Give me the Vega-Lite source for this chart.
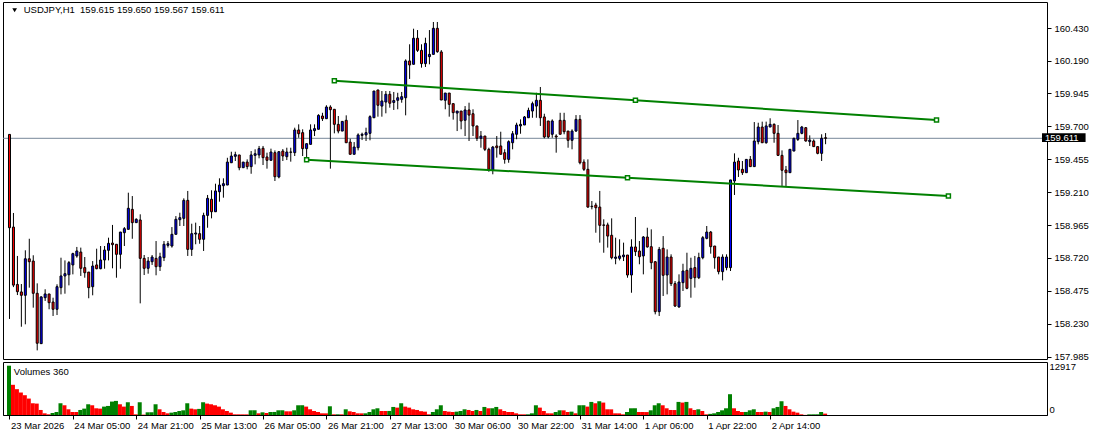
{
"$schema":"https://vega.github.io/schema/vega-lite/v6.json",
"background":"white",
"padding":{"left":2,"top":1,"right":0,"bottom":0},
"autosize":{"type":"pad"},
"bounds":"flush",
"spacing":3,
"datasets":{
"bars":[
{"i":0,"o":159.640,"h":159.640,"l":158.266,"c":158.945,"v":12917},
{"i":1,"o":158.950,"h":159.055,"l":158.503,"c":158.518,"v":7911},
{"i":2,"o":158.523,"h":158.735,"l":158.444,"c":158.469,"v":6768},
{"i":3,"o":158.467,"h":158.526,"l":158.208,"c":158.442,"v":5889},
{"i":4,"o":158.442,"h":158.777,"l":158.226,"c":158.714,"v":5186},
{"i":5,"o":158.714,"h":158.863,"l":158.499,"c":158.692,"v":4307},
{"i":6,"o":158.697,"h":158.740,"l":158.350,"c":158.457,"v":3076},
{"i":7,"o":158.457,"h":158.531,"l":158.032,"c":158.085,"v":2989},
{"i":8,"o":158.082,"h":158.435,"l":158.080,"c":158.430,"v":1319},
{"i":9,"o":158.424,"h":158.487,"l":158.400,"c":158.452,"v":440},
{"i":10,"o":158.452,"h":158.452,"l":158.338,"c":158.387,"v":176},
{"i":11,"o":158.392,"h":158.424,"l":158.288,"c":158.338,"v":527},
{"i":12,"o":158.338,"h":158.524,"l":158.295,"c":158.506,"v":791},
{"i":13,"o":158.499,"h":158.722,"l":158.449,"c":158.586,"v":3076},
{"i":14,"o":158.586,"h":158.702,"l":158.454,"c":158.603,"v":2549},
{"i":15,"o":158.595,"h":158.697,"l":158.516,"c":158.685,"v":1494},
{"i":16,"o":158.668,"h":158.759,"l":158.598,"c":158.752,"v":791},
{"i":17,"o":158.735,"h":158.802,"l":158.722,"c":158.772,"v":780},
{"i":18,"o":158.764,"h":158.797,"l":158.586,"c":158.643,"v":1319},
{"i":19,"o":158.648,"h":158.727,"l":158.573,"c":158.610,"v":1670},
{"i":20,"o":158.615,"h":158.615,"l":158.420,"c":158.499,"v":2813},
{"i":21,"o":158.506,"h":158.697,"l":158.442,"c":158.660,"v":2549},
{"i":22,"o":158.668,"h":158.789,"l":158.636,"c":158.640,"v":1758},
{"i":23,"o":158.640,"h":158.809,"l":158.636,"c":158.705,"v":1670},
{"i":24,"o":158.705,"h":158.809,"l":158.640,"c":158.779,"v":2198},
{"i":25,"o":158.777,"h":158.871,"l":158.702,"c":158.829,"v":2373},
{"i":26,"o":158.831,"h":158.966,"l":158.643,"c":158.819,"v":3516},
{"i":27,"o":158.822,"h":158.822,"l":158.573,"c":158.747,"v":3692},
{"i":28,"o":158.747,"h":158.913,"l":158.640,"c":158.913,"v":2813},
{"i":29,"o":158.908,"h":158.950,"l":158.809,"c":158.938,"v":2198},
{"i":30,"o":158.933,"h":159.206,"l":158.933,"c":159.090,"v":3340},
{"i":31,"o":159.082,"h":159.181,"l":158.863,"c":158.983,"v":2373},
{"i":32,"o":158.983,"h":159.015,"l":158.983,"c":159.008,"v":176},
{"i":33,"o":159.003,"h":159.045,"l":158.382,"c":158.717,"v":3340},
{"i":34,"o":158.717,"h":158.742,"l":158.593,"c":158.643,"v":100},
{"i":35,"o":158.643,"h":158.727,"l":158.603,"c":158.697,"v":703},
{"i":36,"o":158.692,"h":158.742,"l":158.668,"c":158.727,"v":720},
{"i":37,"o":158.717,"h":158.846,"l":158.591,"c":158.655,"v":2813},
{"i":38,"o":158.655,"h":158.759,"l":158.623,"c":158.729,"v":1494},
{"i":39,"o":158.722,"h":158.846,"l":158.697,"c":158.822,"v":791},
{"i":40,"o":158.814,"h":158.846,"l":158.797,"c":158.826,"v":440},
{"i":41,"o":158.809,"h":158.950,"l":158.797,"c":158.896,"v":615},
{"i":42,"o":158.896,"h":159.032,"l":158.896,"c":159.008,"v":791},
{"i":43,"o":159.005,"h":159.057,"l":158.958,"c":159.020,"v":1055},
{"i":44,"o":159.015,"h":159.164,"l":158.958,"c":159.149,"v":1231},
{"i":45,"o":159.149,"h":159.219,"l":158.735,"c":158.784,"v":3076},
{"i":46,"o":158.784,"h":158.975,"l":158.735,"c":158.901,"v":1670},
{"i":47,"o":158.898,"h":158.983,"l":158.822,"c":158.906,"v":1494},
{"i":48,"o":158.901,"h":158.958,"l":158.826,"c":158.859,"v":1600},
{"i":49,"o":158.859,"h":159.057,"l":158.772,"c":159.037,"v":3340},
{"i":50,"o":159.037,"h":159.189,"l":158.945,"c":159.164,"v":2989},
{"i":51,"o":159.157,"h":159.224,"l":159.015,"c":159.064,"v":2813},
{"i":52,"o":159.064,"h":159.273,"l":159.064,"c":159.219,"v":2549},
{"i":53,"o":159.213,"h":159.313,"l":159.139,"c":159.263,"v":2198},
{"i":54,"o":159.258,"h":159.313,"l":159.169,"c":159.273,"v":1494},
{"i":55,"o":159.263,"h":159.466,"l":159.263,"c":159.434,"v":1055},
{"i":56,"o":159.429,"h":159.511,"l":159.429,"c":159.479,"v":615},
{"i":57,"o":159.477,"h":159.511,"l":159.442,"c":159.489,"v":176},
{"i":58,"o":159.487,"h":159.487,"l":159.373,"c":159.392,"v":170},
{"i":59,"o":159.392,"h":159.434,"l":159.392,"c":159.434,"v":165},
{"i":60,"o":159.434,"h":159.454,"l":159.380,"c":159.400,"v":160},
{"i":61,"o":159.400,"h":159.516,"l":159.347,"c":159.487,"v":1231},
{"i":62,"o":159.484,"h":159.529,"l":159.417,"c":159.496,"v":1240},
{"i":63,"o":159.487,"h":159.554,"l":159.462,"c":159.534,"v":440},
{"i":64,"o":159.537,"h":159.554,"l":159.412,"c":159.467,"v":703},
{"i":65,"o":159.472,"h":159.504,"l":159.385,"c":159.447,"v":527},
{"i":66,"o":159.447,"h":159.534,"l":159.447,"c":159.509,"v":791},
{"i":67,"o":159.504,"h":159.521,"l":159.293,"c":159.325,"v":800},
{"i":68,"o":159.323,"h":159.516,"l":159.313,"c":159.511,"v":1231},
{"i":69,"o":159.516,"h":159.531,"l":159.442,"c":159.479,"v":1240},
{"i":70,"o":159.474,"h":159.541,"l":159.449,"c":159.509,"v":967},
{"i":71,"o":159.509,"h":159.541,"l":159.437,"c":159.507,"v":960},
{"i":72,"o":159.504,"h":159.690,"l":159.479,"c":159.673,"v":1231},
{"i":73,"o":159.673,"h":159.715,"l":159.615,"c":159.645,"v":2549},
{"i":74,"o":159.653,"h":159.678,"l":159.479,"c":159.534,"v":2560},
{"i":75,"o":159.534,"h":159.571,"l":159.449,"c":159.571,"v":2198},
{"i":76,"o":159.566,"h":159.715,"l":159.566,"c":159.673,"v":1494},
{"i":77,"o":159.668,"h":159.715,"l":159.628,"c":159.683,"v":1055},
{"i":78,"o":159.678,"h":159.790,"l":159.678,"c":159.782,"v":791},
{"i":79,"o":159.777,"h":159.801,"l":159.740,"c":159.757,"v":440},
{"i":80,"o":159.757,"h":159.857,"l":159.757,"c":159.844,"v":430},
{"i":81,"o":159.844,"h":159.857,"l":159.385,"c":159.824,"v":2285},
{"i":82,"o":159.827,"h":159.827,"l":159.648,"c":159.715,"v":176},
{"i":83,"o":159.715,"h":159.777,"l":159.648,"c":159.665,"v":180},
{"i":84,"o":159.665,"h":159.737,"l":159.665,"c":159.737,"v":170},
{"i":85,"o":159.745,"h":159.782,"l":159.578,"c":159.578,"v":1494},
{"i":86,"o":159.583,"h":159.608,"l":159.492,"c":159.492,"v":967},
{"i":87,"o":159.492,"h":159.583,"l":159.492,"c":159.546,"v":791},
{"i":88,"o":159.541,"h":159.648,"l":159.521,"c":159.636,"v":440},
{"i":89,"o":159.633,"h":159.653,"l":159.598,"c":159.641,"v":430},
{"i":90,"o":159.636,"h":159.690,"l":159.591,"c":159.653,"v":440},
{"i":91,"o":159.648,"h":159.782,"l":159.596,"c":159.772,"v":791},
{"i":92,"o":159.764,"h":159.963,"l":159.764,"c":159.963,"v":1494},
{"i":93,"o":159.971,"h":159.971,"l":159.772,"c":159.857,"v":1758},
{"i":94,"o":159.851,"h":159.963,"l":159.772,"c":159.889,"v":1055},
{"i":95,"o":159.881,"h":159.963,"l":159.797,"c":159.939,"v":1050},
{"i":96,"o":159.939,"h":159.963,"l":159.839,"c":159.872,"v":1060},
{"i":97,"o":159.878,"h":159.956,"l":159.822,"c":159.892,"v":2110},
{"i":98,"o":159.894,"h":159.950,"l":159.827,"c":159.913,"v":1934},
{"i":99,"o":159.901,"h":159.956,"l":159.876,"c":159.921,"v":3076},
{"i":100,"o":159.913,"h":160.199,"l":159.782,"c":160.187,"v":2198},
{"i":101,"o":160.187,"h":160.311,"l":160.053,"c":160.157,"v":1934},
{"i":102,"o":160.162,"h":160.427,"l":160.162,"c":160.356,"v":1494},
{"i":103,"o":160.356,"h":160.417,"l":160.254,"c":160.266,"v":1319},
{"i":104,"o":160.266,"h":160.311,"l":160.137,"c":160.167,"v":1000},
{"i":105,"o":160.167,"h":160.360,"l":160.142,"c":160.318,"v":879},
{"i":106,"o":160.219,"h":160.417,"l":160.162,"c":160.236,"v":176},
{"i":107,"o":160.236,"h":160.477,"l":160.236,"c":160.430,"v":791},
{"i":108,"o":160.430,"h":160.477,"l":160.248,"c":160.256,"v":1494},
{"i":109,"o":160.254,"h":160.268,"l":159.896,"c":159.896,"v":2549},
{"i":110,"o":159.894,"h":159.948,"l":159.827,"c":159.948,"v":1055},
{"i":111,"o":159.948,"h":159.948,"l":159.772,"c":159.864,"v":879},
{"i":112,"o":159.869,"h":159.869,"l":159.750,"c":159.802,"v":791},
{"i":113,"o":159.799,"h":159.814,"l":159.665,"c":159.814,"v":879},
{"i":114,"o":159.814,"h":159.814,"l":159.678,"c":159.740,"v":1055},
{"i":115,"o":159.745,"h":159.851,"l":159.628,"c":159.822,"v":1494},
{"i":116,"o":159.822,"h":159.876,"l":159.591,"c":159.784,"v":1319},
{"i":117,"o":159.794,"h":159.827,"l":159.628,"c":159.703,"v":1055},
{"i":118,"o":159.703,"h":159.703,"l":159.591,"c":159.611,"v":1319},
{"i":119,"o":159.611,"h":159.665,"l":159.541,"c":159.628,"v":1055},
{"i":120,"o":159.628,"h":159.628,"l":159.516,"c":159.529,"v":2110},
{"i":121,"o":159.529,"h":159.541,"l":159.362,"c":159.380,"v":1758},
{"i":122,"o":159.373,"h":159.554,"l":159.343,"c":159.546,"v":1770},
{"i":123,"o":159.554,"h":159.628,"l":159.467,"c":159.541,"v":2110},
{"i":124,"o":159.554,"h":159.660,"l":159.492,"c":159.492,"v":1494},
{"i":125,"o":159.504,"h":159.529,"l":159.422,"c":159.454,"v":1055},
{"i":126,"o":159.454,"h":159.596,"l":159.429,"c":159.586,"v":791},
{"i":127,"o":159.578,"h":159.665,"l":159.529,"c":159.645,"v":780},
{"i":128,"o":159.641,"h":159.727,"l":159.604,"c":159.710,"v":440},
{"i":129,"o":159.703,"h":159.752,"l":159.645,"c":159.715,"v":176},
{"i":130,"o":159.710,"h":159.777,"l":159.710,"c":159.770,"v":170},
{"i":131,"o":159.764,"h":159.839,"l":159.764,"c":159.819,"v":176},
{"i":132,"o":159.814,"h":159.884,"l":159.764,"c":159.869,"v":440},
{"i":133,"o":159.851,"h":159.950,"l":159.764,"c":159.894,"v":2549},
{"i":134,"o":159.894,"h":159.993,"l":159.703,"c":159.764,"v":1934},
{"i":135,"o":159.770,"h":159.794,"l":159.611,"c":159.621,"v":1055},
{"i":136,"o":159.740,"h":159.740,"l":159.611,"c":159.621,"v":440},
{"i":137,"o":159.641,"h":159.752,"l":159.615,"c":159.740,"v":430},
{"i":138,"o":159.628,"h":159.641,"l":159.504,"c":159.621,"v":791},
{"i":139,"o":159.745,"h":159.801,"l":159.641,"c":159.641,"v":1231},
{"i":140,"o":159.745,"h":159.801,"l":159.641,"c":159.660,"v":1220},
{"i":141,"o":159.665,"h":159.665,"l":159.541,"c":159.596,"v":791},
{"i":142,"o":159.596,"h":159.678,"l":159.529,"c":159.665,"v":879},
{"i":143,"o":159.665,"h":159.784,"l":159.660,"c":159.752,"v":440},
{"i":144,"o":159.752,"h":159.784,"l":159.417,"c":159.429,"v":2549},
{"i":145,"o":159.434,"h":159.454,"l":159.368,"c":159.380,"v":2560},
{"i":146,"o":159.380,"h":159.454,"l":159.094,"c":159.099,"v":2198},
{"i":147,"o":159.105,"h":159.144,"l":159.082,"c":159.102,"v":3428},
{"i":148,"o":159.114,"h":159.131,"l":158.908,"c":159.094,"v":3076},
{"i":149,"o":159.099,"h":159.219,"l":158.834,"c":158.963,"v":3604},
{"i":150,"o":158.966,"h":159.008,"l":158.759,"c":158.963,"v":3252},
{"i":151,"o":158.966,"h":158.983,"l":158.797,"c":158.883,"v":1494},
{"i":152,"o":158.889,"h":159.015,"l":158.710,"c":158.722,"v":1480},
{"i":153,"o":158.717,"h":158.871,"l":158.673,"c":158.727,"v":440},
{"i":154,"o":158.717,"h":158.859,"l":158.702,"c":158.735,"v":430},
{"i":155,"o":158.729,"h":158.834,"l":158.697,"c":158.742,"v":176},
{"i":156,"o":158.742,"h":158.742,"l":158.573,"c":158.593,"v":791},
{"i":157,"o":158.593,"h":158.859,"l":158.461,"c":158.802,"v":1758},
{"i":158,"o":158.802,"h":159.025,"l":158.735,"c":158.767,"v":1770},
{"i":159,"o":158.772,"h":158.846,"l":158.673,"c":158.729,"v":791},
{"i":160,"o":158.735,"h":158.883,"l":158.598,"c":158.876,"v":780},
{"i":161,"o":158.876,"h":158.945,"l":158.797,"c":158.802,"v":770},
{"i":162,"o":158.804,"h":158.933,"l":158.636,"c":158.685,"v":1231},
{"i":163,"o":158.692,"h":158.697,"l":158.300,"c":158.320,"v":2549},
{"i":164,"o":158.320,"h":158.802,"l":158.288,"c":158.784,"v":3076},
{"i":165,"o":158.792,"h":158.883,"l":158.437,"c":158.591,"v":2549},
{"i":166,"o":158.593,"h":158.784,"l":158.449,"c":158.727,"v":1758},
{"i":167,"o":158.727,"h":158.747,"l":158.511,"c":158.529,"v":1319},
{"i":168,"o":158.529,"h":158.548,"l":158.355,"c":158.362,"v":1300},
{"i":169,"o":158.355,"h":158.598,"l":158.350,"c":158.541,"v":3428},
{"i":170,"o":158.536,"h":158.677,"l":158.474,"c":158.623,"v":3252},
{"i":171,"o":158.628,"h":158.759,"l":158.487,"c":158.494,"v":3428},
{"i":172,"o":158.568,"h":158.722,"l":158.424,"c":158.643,"v":1758},
{"i":173,"o":158.648,"h":158.735,"l":158.499,"c":158.573,"v":1319},
{"i":174,"o":158.573,"h":158.759,"l":158.563,"c":158.723,"v":1494},
{"i":175,"o":158.722,"h":158.883,"l":158.710,"c":158.871,"v":1055},
{"i":176,"o":158.866,"h":158.958,"l":158.859,"c":158.913,"v":176},
{"i":177,"o":158.913,"h":158.921,"l":158.752,"c":158.804,"v":300},
{"i":178,"o":158.809,"h":158.809,"l":158.640,"c":158.722,"v":440},
{"i":179,"o":158.727,"h":158.727,"l":158.598,"c":158.618,"v":791},
{"i":180,"o":158.618,"h":158.747,"l":158.553,"c":158.727,"v":1231},
{"i":181,"o":158.648,"h":158.747,"l":158.628,"c":158.727,"v":1758},
{"i":182,"o":158.648,"h":159.301,"l":158.623,"c":159.301,"v":5450},
{"i":183,"o":159.293,"h":159.499,"l":159.189,"c":159.434,"v":1758},
{"i":184,"o":159.442,"h":159.466,"l":159.323,"c":159.375,"v":1055},
{"i":185,"o":159.380,"h":159.442,"l":159.338,"c":159.355,"v":791},
{"i":186,"o":159.355,"h":159.454,"l":159.355,"c":159.454,"v":800},
{"i":187,"o":159.454,"h":159.479,"l":159.400,"c":159.400,"v":1231},
{"i":188,"o":159.400,"h":159.732,"l":159.400,"c":159.591,"v":1494},
{"i":189,"o":159.586,"h":159.727,"l":159.566,"c":159.695,"v":791},
{"i":190,"o":159.695,"h":159.735,"l":159.578,"c":159.578,"v":780},
{"i":191,"o":159.578,"h":159.735,"l":159.571,"c":159.703,"v":879},
{"i":192,"o":159.695,"h":159.760,"l":159.695,"c":159.715,"v":791},
{"i":193,"o":159.715,"h":159.722,"l":159.578,"c":159.648,"v":1758},
{"i":194,"o":159.648,"h":159.710,"l":159.479,"c":159.484,"v":2110},
{"i":195,"o":159.484,"h":159.521,"l":159.256,"c":159.373,"v":3604},
{"i":196,"o":159.375,"h":159.405,"l":159.256,"c":159.355,"v":2373},
{"i":197,"o":159.355,"h":159.529,"l":159.355,"c":159.529,"v":1494},
{"i":198,"o":159.516,"h":159.615,"l":159.516,"c":159.611,"v":879},
{"i":199,"o":159.603,"h":159.747,"l":159.591,"c":159.648,"v":615},
{"i":200,"o":159.648,"h":159.703,"l":159.641,"c":159.695,"v":176},
{"i":201,"o":159.690,"h":159.695,"l":159.586,"c":159.591,"v":30},
{"i":202,"o":159.586,"h":159.633,"l":159.554,"c":159.598,"v":170},
{"i":203,"o":159.591,"h":159.603,"l":159.549,"c":159.549,"v":176},
{"i":204,"o":159.549,"h":159.549,"l":159.492,"c":159.499,"v":180},
{"i":205,"o":159.499,"h":159.641,"l":159.442,"c":159.611,"v":791},
{"i":206,"o":159.615,"h":159.650,"l":159.567,"c":159.611,"v":360}
],
"trend":[
{"line":"upper","i":82,"p":160.040},
{"line":"upper","i":158,"p":159.8935},
{"line":"upper","i":234,"p":159.747},
{"line":"lower","i":75,"p":159.452},
{"line":"lower","i":156,"p":159.3165},
{"line":"lower","i":237,"p":159.181}
],
"bid":[{"price":159.611}],
"head":[{"text":"USDJPY,H1\u00a0 159.615 159.650 159.567 159.611"}],
"volhead":[{"text":"Volumes 360"}]
},
"vconcat":[
{
"width":1044,"height":357,
"resolve":{"axis":{"y":"independent"}},
"layer":[
{"data":{"name":"bid"},"mark":{"type":"rule","color":"#778899","strokeWidth":1},
 "encoding":{"y":{"field":"price","type":"quantitative","scale":{"domain":[157.9677,160.6259],"nice":false,"zero":false},
 "axis":{"orient":"right","values":[160.43,160.19,159.945,159.7,159.455,159.21,158.965,158.72,158.475,158.23,157.985],"format":".3f","tickSize":4,"labelPadding":3,"grid":false,"title":null,"domain":false,"labelOverlap":false,"labelFlush":false,"labelBound":false,"labelSeparation":0}}}},
{"data":{"name":"bars"},"mark":{"type":"rule","color":"black","strokeWidth":1},
 "encoding":{"x":{"field":"i","type":"quantitative","scale":{"domain":[-0.375,260.625],"nice":false,"zero":false},"axis":null},
 "y":{"field":"l","type":"quantitative","axis":null},"y2":{"field":"h"}}},
{"data":{"name":"bars"},"mark":{"type":"bar","size":2,"stroke":"black","strokeWidth":1},
 "encoding":{"x":{"field":"i","type":"quantitative"},"y":{"field":"o","type":"quantitative","axis":null},"y2":{"field":"c"},
 "color":{"condition":{"test":"datum.c < datum.o","value":"#ff0000"},"value":"#0000ff"}}},
{"data":{"name":"trend"},"mark":{"type":"line","color":"#008000","strokeWidth":2},
 "encoding":{"x":{"field":"i","type":"quantitative"},"y":{"field":"p","type":"quantitative","axis":null},"detail":{"field":"line"},"order":{"field":"i"}}},
{"data":{"name":"trend"},"mark":{"type":"square","size":16,"fill":"white","stroke":"#008000","strokeWidth":1.5,"opacity":1},
 "encoding":{"x":{"field":"i","type":"quantitative"},"y":{"field":"p","type":"quantitative","axis":null}}},
{"data":{"name":"bid"},"mark":{"type":"rect","color":"black"},
 "encoding":{"x":{"datum":260.625},"x2":{"datum":271.625},"y":{"datum":159.648,"axis":null},"y2":{"datum":159.583}}},
{"data":{"name":"bid"},"mark":{"type":"text","color":"white","align":"left","baseline":"middle","font":"Liberation Sans","fontSize":9.5},
 "encoding":{"x":{"datum":261.375},"y":{"field":"price","type":"quantitative","axis":null},"text":{"field":"price","type":"quantitative","format":".3f"}}},
{"data":{"name":"head"},"mark":{"type":"point","shape":"triangle-down","size":22,"filled":true,"color":"black","opacity":1},
 "encoding":{"x":{"datum":1.3},"y":{"datum":160.565,"axis":null}}},
{"data":{"name":"head"},"mark":{"type":"text","color":"black","align":"left","baseline":"middle","font":"Liberation Sans","fontSize":9.5},
 "encoding":{"x":{"datum":3.6},"y":{"datum":160.563,"axis":null},"text":{"field":"text"}}}
]
},
{
"width":1044,"height":53,
"layer":[
{"data":{"name":"bars"},
"transform":[{"window":[{"op":"lag","field":"v","as":"pv"}],"sort":[{"field":"i","order":"ascending"}]}],
"mark":{"type":"bar","size":4,"xOffset":-0.5},
"encoding":{
"x":{"field":"i","type":"quantitative","scale":{"domain":[-0.375,260.625],"nice":false,"zero":false},
 "axis":{"values":[0,16,32,48,64,80,96,112,128,144,160,176,192],
 "labelExpr":"['23 Mar 2026','24 Mar 05:00','24 Mar 21:00','25 Mar 13:00','26 Mar 05:00','26 Mar 21:00','27 Mar 13:00','30 Mar 06:00','30 Mar 22:00','31 Mar 14:00','1 Apr 06:00','1 Apr 22:00','2 Apr 14:00'][round(datum.value/16)]",
 "tickSize":4,"labelAlign":"left","labelOffset":1,"labelPadding":1,"grid":false,"title":null,"labelOverlap":false,"labelFlush":false,"labelBound":false}},
"y":{"field":"v","type":"quantitative","scale":{"domain":[0,13886],"nice":false},
 "axis":{"orient":"right","values":[0,12917],"format":"d","tickSize":0,"labelPadding":2,"grid":false,"title":null,"domain":false,"labelOverlap":false,
 "labelOffset":{"condition":{"test":"datum.value == 0","value":-6},"value":1}}},
"color":{"condition":{"test":"datum.pv == null || datum.v > datum.pv","value":"#008000"},"value":"#ff0000"}
}},
{"data":{"name":"volhead"},"mark":{"type":"text","color":"black","align":"left","baseline":"middle","font":"Liberation Sans","fontSize":9.5},
 "encoding":{"x":{"datum":1.1},"y":{"datum":11344},"text":{"field":"text"}}}
]
}
],
"config":{
"view":{"stroke":"black","strokeWidth":1},
"axis":{"labelFont":"Liberation Sans","labelFontSize":9.5,"labelColor":"black","tickColor":"black","domainColor":"black","grid":false,"labelOverlap":false}
}
}
